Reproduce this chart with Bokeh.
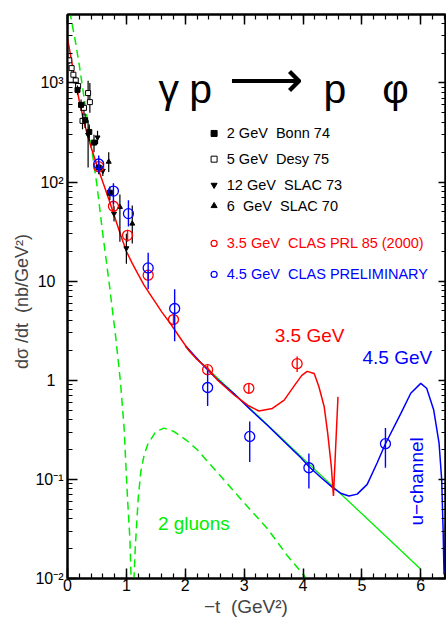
from bokeh.plotting import figure
from bokeh.models import Range1d, LogAxis, LinearAxis, FixedTicker, SingleIntervalTicker
from bokeh.core.properties import value
from bokeh.embed import file_html
from bokeh.resources import INLINE

FONT = "Liberation Sans"
GREEN = "#00ee00"
NB = "\u00a0"

# ---------------- model curves ----------------
red_t = [0, 0.1, 0.2, 0.3, 0.4, 0.5, 0.6, 0.7, 0.8, 0.9, 1.0, 1.1, 1.2, 1.3, 1.4, 1.5, 1.6,
         1.75, 1.9, 2.06, 2.2, 2.38, 2.55, 2.83, 3.06, 3.25, 3.48, 3.68, 3.88, 3.98, 4.07,
         4.19, 4.27, 4.36, 4.42, 4.48, 4.517, 4.555, 4.594]
red_y = [2820, 1320, 661, 363, 224, 148, 100, 67.6, 44.7, 29.5, 20.0, 15.1, 11.7, 9.12, 7.41,
         6.03, 4.90, 3.72, 2.75, 2.00, 1.62, 1.32, 1.00, 0.71, 0.56, 0.49, 0.52, 0.63, 0.93,
         1.12, 1.23, 1.17, 0.86, 0.54, 0.29, 0.136, 0.068, 0.215, 0.68]

blue_t = [2.0, 2.26, 2.5, 2.83, 3.1, 3.4, 3.7, 3.96, 4.1, 4.3, 4.5, 4.65, 4.78, 4.92, 5.09,
          5.26, 5.40, 5.66, 5.83, 6.0, 6.1, 6.22, 6.31, 6.355, 6.38, 6.395, 6.41, 6.425]
blue_y = [2.24, 1.51, 1.08, 0.73, 0.51, 0.35, 0.234, 0.166, 0.135, 0.105, 0.083, 0.072,
          0.068, 0.071, 0.089, 0.147, 0.229, 0.46, 0.74, 0.93, 0.83, 0.50, 0.234, 0.10,
          0.030, 0.011, 0.02, 0.04]

green_t = [2.0, 2.26, 3.0, 4.0, 5.0, 6.0]
green_y = [2.19, 1.52, 0.59, 0.163, 0.045, 0.0124]

gluon_t = [0, 0.07, 0.14, 0.2, 0.28, 0.35, 0.42, 0.5, 0.59, 0.71, 0.82, 0.9, 0.96, 1.02,
           1.06, 1.08, 1.105, 1.13, 1.15, 1.2, 1.245, 1.3, 1.36, 1.5, 1.64, 1.81, 2.01, 2.2,
           2.38, 2.6, 3.0, 3.4, 3.73, 4.02, 4.1]
gluon_y = [7080, 4170, 2510, 1510, 724, 380, 200, 93.3, 33.1, 9.33, 2.69, 0.955, 0.339, 0.063,
           0.0251, 0.01, 0.0003, 0.01, 0.02, 0.063, 0.12, 0.174, 0.224, 0.304, 0.329, 0.304,
           0.251, 0.20, 0.151, 0.108, 0.058, 0.0316, 0.0171, 0.0107, 0.0093]

# ---------------- data points ----------------
clas35_t = [0.53, 0.78, 1.02, 1.37, 1.80, 2.38, 3.08, 3.90]
clas35_y = [143, 57, 29, 11.5, 4.1, 1.28, 0.83, 1.47]
clas35_lo = [130, 51, 25, 10.2, 3.6, 1.15, 0.74, 1.21]
clas35_hi = [157, 63, 33, 12.9, 4.7, 1.42, 0.92, 1.74]

clas45_t = [0.53, 0.78, 1.035, 1.37, 1.82, 2.38, 3.095, 4.10, 5.40]
clas45_y = [152, 81, 48, 13.6, 5.3, 0.845, 0.271, 0.131, 0.229]
clas45_lo = [125, 60, 35.5, 8.3, 2.47, 0.55, 0.150, 0.081, 0.131]
clas45_hi = [185, 97, 65.6, 19.3, 8.3, 1.26, 0.383, 0.182, 0.329]

bonn_t = [0.17, 0.23, 0.30, 0.37, 0.45, 0.53, 0.72]
bonn_y = [850, 600, 420, 320, 250, 140, 78]
bonn_lo = [760, 520, 350, 260, 200, 120, 66]
bonn_hi = [940, 680, 490, 380, 300, 160, 90]

desy_t = [0.03, 0.07, 0.10, 0.14, 0.18, 0.255, 0.28, 0.35, 0.38]
desy_y = [1690, 1410, 1210, 1060, 930, 414, 560, 790, 640]
desy_lo = [1560, 1300, 1110, 960, 830, 340, 470, 630, 500]
desy_hi = [1820, 1520, 1310, 1160, 1030, 490, 650, 1050, 1000]

slac73_t = [0.35, 0.51, 0.60, 0.79, 1.00]
slac73_y = [300, 282, 130, 48, 21.5]
slac73_lo = [140, 240, 115, 40, 15]
slac73_hi = [420, 330, 145, 57, 30]

slac70_t = [0.70, 0.89, 1.10]
slac70_y = [160, 56, 38]
slac70_lo = [126, 25, 24]
slac70_hi = [200, 75, 58]

# ---------------- axis ticks / texts ----------------
y_ticks = [0.01, 0.1, 1, 10, 100, 1000]
y_tick_labels = ["10\u207b\u00b2", "10\u207b\u00b9", "1\u2002", "10\u2002", "10\u00b2", "10\u00b3"]
x_tick_labels = ["0", "1", "2", "3", "4", "5", "6"]

legend_labels = ["2 GeV" + NB + " Bonn 74", "5 GeV" + NB + " Desy 75",
                 "12 GeV" + NB + " SLAC 73", "6" + NB + " GeV" + NB + " SLAC 70"]
legend_y = [309, 170, 93.3, 57.5]

p = figure(width=446, height=621, y_axis_type="log",
           x_range=Range1d(0, 6.42), y_range=Range1d(0.01, 4900),
           output_backend="svg", toolbar_location=None,
           min_border_left=67, min_border_top=14, min_border_right=1, min_border_bottom=43)
p.grid.visible = False
p.outline_line_color = "black"
p.outline_line_width = 2
p.background_fill_color = "white"
p.border_fill_color = "white"

minor_y = [m * 10.0 ** e for e in range(-2, 4) for m in range(2, 10)]


def style_axis(ax, major_len, minor_len):
    ax.axis_line_width = 2
    ax.axis_line_color = "black"
    ax.major_tick_in = major_len
    ax.major_tick_out = 0
    ax.minor_tick_in = minor_len
    ax.minor_tick_out = 0
    ax.major_tick_line_width = 1.5
    ax.minor_tick_line_width = 1.2
    ax.major_tick_line_color = "black"
    ax.minor_tick_line_color = "black"
    ax.major_label_text_font = FONT
    ax.major_label_text_color = "black"


xa = p.xaxis[0]
xa.ticker = SingleIntervalTicker(interval=1, num_minor_ticks=5)
style_axis(xa, 10, 5)
xa.major_label_overrides = {i: x_tick_labels[i] for i in range(7)}
xa.major_label_text_font_size = "16px"
xa.major_label_standoff = 0
xa.axis_label = "\u2212t" + NB + " (GeV\u00b2)" + NB * 4
xa.axis_label_text_font = FONT
xa.axis_label_text_font_size = "19px"
xa.axis_label_text_font_style = "normal"
xa.axis_label_standoff = 2

ya = p.yaxis[0]
ya.ticker = FixedTicker(ticks=y_ticks, minor_ticks=minor_y)
style_axis(ya, 10, 5)
ya.major_label_overrides = {t: l for t, l in zip(y_ticks, y_tick_labels)}
ya.major_label_text_font_size = "16px"
ya.major_label_standoff = 4
ya.axis_label = "d\u03c3 /dt" + NB + " (nb/GeV\u00b2)" + NB * 2
ya.axis_label_text_font = FONT
ya.axis_label_text_font_size = "18px"
ya.axis_label_text_font_style = "normal"
ya.axis_label_standoff = 0

top = LinearAxis(ticker=SingleIntervalTicker(interval=1, num_minor_ticks=5),
                 major_label_overrides={i: "" for i in range(7)},
                 major_label_text_font_size="1px", major_label_standoff=0)
style_axis(top, 10, 5)
p.add_layout(top, "above")

right = LogAxis(ticker=FixedTicker(ticks=y_ticks, minor_ticks=minor_y),
                major_label_overrides={t: "" for t in y_ticks},
                major_label_text_font_size="1px", major_label_standoff=0)
style_axis(right, 7, 4)
p.add_layout(right, "right")

# ---------------- curves ----------------
p.line(gluon_t, gluon_y, line_color=GREEN, line_width=1.5, line_dash="8 5")
p.line(green_t, green_y, line_color=GREEN, line_width=1.3)
p.line(blue_t, blue_y, line_color="blue", line_width=1.5)
p.line(red_t, red_y, line_color="red", line_width=1.5)

# ---------------- black data ----------------
for t, y, lo, hi, mk, fill in [
    (desy_t, desy_y, desy_lo, desy_hi, "square", "white"),
    (bonn_t, bonn_y, bonn_lo, bonn_hi, "square", "black"),
    (slac73_t, slac73_y, slac73_lo, slac73_hi, "inverted_triangle", "black"),
    (slac70_t, slac70_y, slac70_lo, slac70_hi, "triangle", "black"),
]:
    p.segment(x0=t, y0=lo, x1=t, y1=hi, line_color="black", line_width=1.2)
    p.scatter(t, y, marker=mk, size=5, line_color="black", fill_color=fill, line_width=1)

# ---------------- CLAS data ----------------
p.segment(x0=clas35_t, y0=clas35_lo, x1=clas35_t, y1=clas35_hi, line_color="red", line_width=1.4)
p.scatter(clas35_t, clas35_y, marker="circle", size=10, line_color="red", fill_color=None, line_width=1.3)
p.segment(x0=clas45_t, y0=clas45_lo, x1=clas45_t, y1=clas45_hi, line_color="blue", line_width=1.4)
p.scatter(clas45_t, clas45_y, marker="circle", size=10, line_color="blue", fill_color=None, line_width=1.3)

# ---------------- legend ----------------
LX, TX = 2.49, 2.705
p.scatter([LX], [legend_y[0]], marker="square", size=6, color="black")
p.scatter([LX], [legend_y[1]], marker="square", size=6, line_color="black", fill_color="white")
p.scatter([LX], [legend_y[2]], marker="inverted_triangle", size=6, color="black")
p.scatter([LX], [legend_y[3]], marker="triangle", size=6, color="black")
p.text(x=[TX] * 4, y=legend_y, text=legend_labels, text_font=value(FONT), text_font_size="14.5px",
       text_color="black", text_baseline="middle", text_align="left")
p.scatter([LX], [24], marker="circle", size=6, line_color="red", fill_color=None, line_width=1.2)
p.scatter([LX], [11.7], marker="circle", size=6, line_color="blue", fill_color=None, line_width=1.2)
p.text(x=[TX], y=[24], text=["3.5 GeV" + NB + " CLAS PRL 85 (2000)"], text_font=value(FONT),
       text_font_size="14.5px", text_color="red", text_baseline="middle", text_align="left")
p.text(x=[TX], y=[11.7], text=["4.5 GeV" + NB + " CLAS PRELIMINARY"], text_font=value(FONT),
       text_font_size="14.5px", text_color="blue", text_baseline="middle", text_align="left")

# ---------------- annotations ----------------
p.text(x=[3.52], y=[2.82], text=["3.5 GeV"], text_font=value(FONT), text_font_size="19px",
       text_color="red", text_baseline="middle", text_align="left")
p.text(x=[5.01], y=[1.70], text=["4.5 GeV"], text_font=value(FONT), text_font_size="19px",
       text_color="blue", text_baseline="middle", text_align="left")
p.text(x=[5.93], y=[0.0955], text=["u\u2212channel"], text_font=value(FONT), text_font_size="19px",
       text_color="blue", text_baseline="middle", text_align="center", angle=1.5708)
p.text(x=[1.535], y=[0.0355], text=["2 gluons"], text_font=value(FONT), text_font_size="19px",
       text_color=GREEN, text_baseline="middle", text_align="left")

# title  gamma p -> p phi
p.text(x=[1.72, 2.26, 4.54, 5.57], y=[871] * 4,
       text=["\u03b3", "p", "p", "\u03c6"], text_font=value(FONT), text_font_size="41px",
       text_color="black", text_baseline="alphabetic", text_align="center")
p.text(x=[3.38], y=[1096], text=["\u27f6"], text_font=value(FONT), text_font_size="52px",
       text_color="black", text_baseline="middle", text_align="center")

open("out.html", "w").write(file_html(p, INLINE))
